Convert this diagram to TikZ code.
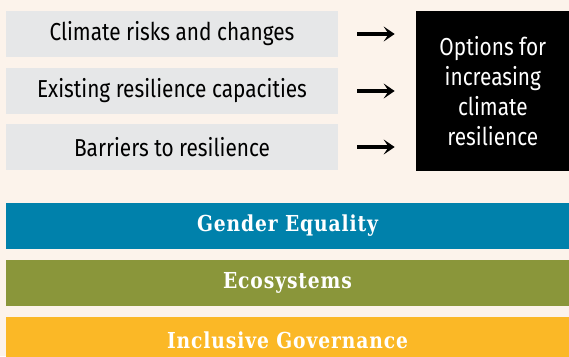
\documentclass[tikz,border=0pt]{standalone}
\usepackage{fontspec}
\setmainfont{Fira Sans}[FakeStretch=0.85]
\newfontfamily\barfont{DejaVu Serif}[LetterSpace=4,FakeStretch=0.85]
\usetikzlibrary{arrows.meta}
\definecolor{bgcream}{HTML}{FCF3EB}
\definecolor{boxgray}{HTML}{E6E7E8}
\definecolor{bblue}{HTML}{0081AB}
\definecolor{bolive}{HTML}{8A963A}
\definecolor{byellow}{HTML}{FBB826}
\tikzset{
  inbox/.style={fill=boxgray, draw=none, minimum width=332pt, minimum height=46pt, inner sep=0pt, font=\fontsize{24.5}{28}\selectfont, text=black},
  optbox/.style={fill=black, draw=none, minimum width=153pt, minimum height=160pt, inner sep=0pt, text=white, align=center, font=\fontsize{24.5}{30}\selectfont},
  bar/.style={draw=none, minimum width=563pt, minimum height=45.5pt, inner sep=0pt, text=white, font=\barfont\bfseries\fontsize{22}{26}\selectfont},
  arr/.style={line width=4.6pt, -{Stealth[length=11pt, width=15pt, inset=5pt]}, shorten <=19pt, shorten >=21.5pt}
}
\begin{document}
\begin{tikzpicture}[x=1pt,y=-1pt]
\fill[bgcream] (0,0) rectangle (569,356);
\useasboundingbox (0,0) rectangle (569,356);
\node[inbox] (g1) at (172,34) {Climate risks and changes};
\node[inbox] (g2) at (172,91) {Existing resilience capacities};
\node[inbox] (g3) at (172,147) {Barriers to resilience};
\node[optbox] (opt) at (492.85,91) {Options for\\increasing\\climate\\resilience};
\draw[arr] (g1.east) -- (g1.east -| opt.west);
\draw[arr] (g2.east) -- (g2.east -| opt.west);
\draw[arr] (g3.east) -- (g3.east -| opt.west);
\node[bar, fill=bblue] (ge) at (287.5,225.75) {Gender Equality};
\node[bar, fill=bolive] (eco) at (287.5,282.75) {Ecosystems};
\node[bar, fill=byellow, minimum height=46pt] (ig) at (287.5,340) {Inclusive Governance};
\end{tikzpicture}
\end{document}
